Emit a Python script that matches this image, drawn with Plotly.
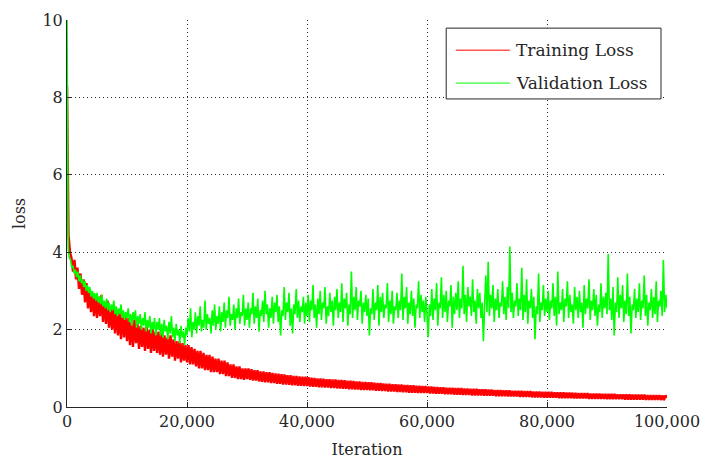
import numpy as np
import plotly.graph_objects as go

# Training loss, sampled every 250 iterations (0 .. 100,000)
train_iter = np.arange(0, 100001, 250)
train_loss = [
    8.30, 4.45, 4.00, 3.85, 3.50, 3.80, 3.30, 3.60, 3.05, 3.45, 2.90, 3.30, 2.70, 3.20, 2.55, 3.05, 2.45, 2.95, 2.35, 2.85,
    2.30, 2.85, 2.35, 2.90, 2.20, 2.70, 2.15, 2.75, 2.05, 2.60, 2.00, 2.55, 1.90, 2.50, 1.85, 2.45, 1.75, 2.40, 1.80, 2.35,
    1.70, 2.30, 1.60, 2.20, 1.55, 2.25, 1.65, 2.15, 1.50, 2.10, 1.55, 2.05, 1.45, 2.10, 1.50, 2.00, 1.40, 2.05, 1.45, 1.95,
    1.40, 1.95, 1.35, 1.90, 1.30, 1.85, 1.35, 1.80, 1.25, 1.85, 1.30, 1.75, 1.20, 1.70, 1.25, 1.70, 1.15, 1.65, 1.20, 1.60,
    1.15, 1.60, 1.10, 1.55, 1.10, 1.50, 1.05, 1.45, 1.00, 1.45, 1.00, 1.40, 0.95, 1.35, 0.95, 1.35, 0.90, 1.30, 0.90, 1.25,
    0.90, 1.25, 0.85, 1.20, 0.85, 1.20, 0.80, 1.15, 0.80, 1.10, 0.75, 1.10, 0.75, 1.05, 0.72, 1.05, 0.72, 1.00, 0.70, 1.00,
    0.72, 1.00, 0.70, 0.98, 0.68, 0.95, 0.68, 0.95, 0.66, 0.92, 0.65, 0.92, 0.64, 0.90, 0.64, 0.90, 0.62, 0.88, 0.62, 0.87,
    0.60, 0.86, 0.60, 0.85, 0.58, 0.84, 0.58, 0.82, 0.57, 0.82, 0.56, 0.80, 0.56, 0.80, 0.55, 0.79, 0.55, 0.78, 0.54, 0.78,
    0.54, 0.77, 0.53, 0.76, 0.52, 0.75, 0.52, 0.74, 0.51, 0.74, 0.51, 0.73, 0.50, 0.72, 0.50, 0.72, 0.49, 0.71, 0.49, 0.71,
    0.48, 0.70, 0.48, 0.70, 0.47, 0.69, 0.47, 0.68, 0.46, 0.68, 0.46, 0.67, 0.45, 0.66, 0.45, 0.66, 0.44, 0.65, 0.44, 0.65,
    0.44, 0.64, 0.43, 0.64, 0.43, 0.63, 0.42, 0.62, 0.42, 0.62, 0.41, 0.61, 0.41, 0.60, 0.40, 0.60, 0.40, 0.59, 0.40, 0.59,
    0.39, 0.58, 0.39, 0.58, 0.38, 0.57, 0.38, 0.57, 0.37, 0.56, 0.37, 0.56, 0.37, 0.55, 0.36, 0.55, 0.36, 0.54, 0.36, 0.54,
    0.36, 0.53, 0.35, 0.53, 0.35, 0.52, 0.34, 0.52, 0.34, 0.51, 0.34, 0.51, 0.33, 0.50, 0.33, 0.50, 0.33, 0.50, 0.32, 0.49,
    0.32, 0.49, 0.32, 0.49, 0.31, 0.48, 0.31, 0.48, 0.31, 0.47, 0.30, 0.47, 0.30, 0.47, 0.30, 0.46, 0.30, 0.46, 0.29, 0.46,
    0.29, 0.45, 0.29, 0.45, 0.29, 0.44, 0.28, 0.44, 0.28, 0.44, 0.28, 0.43, 0.28, 0.43, 0.27, 0.43, 0.27, 0.42, 0.27, 0.42,
    0.27, 0.42, 0.26, 0.42, 0.26, 0.41, 0.26, 0.41, 0.26, 0.41, 0.25, 0.40, 0.25, 0.40, 0.25, 0.40, 0.25, 0.39, 0.24, 0.39,
    0.24, 0.39, 0.24, 0.39, 0.24, 0.38, 0.24, 0.38, 0.23, 0.38, 0.23, 0.38, 0.23, 0.37, 0.23, 0.37, 0.23, 0.37, 0.22, 0.37,
    0.22, 0.36, 0.22, 0.36, 0.22, 0.36, 0.22, 0.36, 0.21, 0.35, 0.21, 0.35, 0.21, 0.35, 0.21, 0.35, 0.21, 0.34, 0.21, 0.34,
    0.20, 0.34, 0.20, 0.34, 0.20, 0.34, 0.20, 0.33, 0.20, 0.33, 0.20, 0.33, 0.19, 0.33, 0.19, 0.33, 0.19, 0.32, 0.19, 0.32,
    0.19, 0.32, 0.19, 0.32, 0.19, 0.32, 0.18, 0.31, 0.18, 0.31, 0.18, 0.31, 0.18, 0.31, 0.18, 0.31, 0.18, 0.30, 0.18, 0.30,
    0.24,
]

# Validation loss, sampled every 200 iterations (0 .. 100,000)
val_iter = np.arange(0, 100001, 200)
val_loss = [
    10.0, 4.10, 3.85, 3.80, 3.60, 3.65, 3.45, 3.55, 3.35, 3.50, 3.25, 3.40, 3.20, 3.30, 3.10, 3.25, 3.00, 3.15, 2.95, 3.10, 2.85, 3.00, 2.80, 2.95, 2.75,
    2.95, 2.70, 2.85, 2.65, 2.90, 2.60, 2.75, 2.55, 2.80, 2.50, 2.70, 2.45, 2.65, 2.50, 2.75, 2.40, 2.60, 2.35, 2.55, 2.40, 2.65, 2.30, 2.50, 2.25, 2.45,
    2.30, 2.55, 2.20, 2.40, 2.10, 2.45, 2.25, 2.50, 2.05, 2.35, 2.15, 2.40, 2.00, 2.30, 2.10, 2.45, 1.95, 2.25, 2.05, 2.35, 1.90, 2.20, 2.00, 2.30, 1.85,
    2.20, 2.00, 2.30, 1.85, 2.15, 1.80, 2.25, 1.95, 2.10, 1.75, 2.20, 1.90, 2.35, 1.80, 2.05, 1.70, 2.15, 1.85, 2.00, 1.65, 2.10, 1.80, 1.95, 1.60, 2.05,
    1.85, 2.30, 1.95, 2.55, 1.80, 2.20, 2.00, 2.45, 1.90, 2.35, 2.10, 2.60, 1.95, 2.25, 2.05, 2.75, 2.00, 2.40, 2.15, 2.30, 1.90, 2.50, 2.10, 2.65, 2.00,
    2.35, 2.15, 2.60, 1.95, 2.45, 2.20, 2.70, 2.05, 2.50, 2.30, 2.85, 2.10, 2.40, 2.25, 2.65, 2.00, 2.55, 2.30, 2.80, 2.15, 2.45, 2.35, 2.90, 2.10, 2.55,
    2.25, 2.70, 2.05, 2.55, 2.40, 2.95, 2.15, 2.60, 2.30, 2.80, 1.95, 2.50, 2.35, 2.75, 2.20, 3.00, 2.40, 2.65, 2.05, 2.55, 2.30, 2.85, 2.15, 2.70, 2.45,
    2.90, 2.20, 2.60, 1.85, 2.50, 2.35, 3.10, 2.25, 2.70, 2.45, 2.95, 2.10, 2.55, 1.90, 2.65, 2.40, 3.05, 2.30, 2.75, 2.20, 2.60, 2.45, 2.85, 2.15, 2.70,
    2.35, 2.90, 2.20, 2.75, 2.50, 3.15, 2.30, 2.65, 2.05, 2.80, 2.40, 3.00, 2.25, 2.70, 2.55, 3.10, 2.15, 2.60, 2.35, 2.95, 2.45, 2.75, 2.10, 2.85, 2.50,
    3.05, 2.30, 2.70, 2.45, 3.20, 2.20, 2.80, 2.55, 2.95, 2.10, 2.65, 2.40, 3.50, 2.30, 2.85, 2.50, 3.10, 2.25, 2.75, 2.60, 3.00, 2.15, 2.70, 2.45, 2.90,
    2.35, 2.80, 1.85, 2.55, 2.40, 3.05, 2.25, 2.70, 2.50, 3.15, 2.10, 2.85, 2.45, 2.95, 2.30, 2.65, 2.55, 3.20, 2.20, 2.75, 2.40, 3.00, 2.15, 2.60, 2.50,
    2.95, 2.30, 2.75, 2.50, 3.45, 2.25, 2.85, 2.55, 3.10, 2.15, 2.70, 2.40, 3.00, 2.35, 2.80, 2.05, 2.65, 2.55, 3.25, 2.30, 2.90, 2.45, 2.75, 2.20, 2.85,
    2.40, 1.80, 2.65, 2.35, 3.05, 2.25, 2.80, 2.50, 3.20, 2.10, 2.70, 2.55, 3.35, 2.30, 2.90, 2.45, 3.00, 2.20, 2.75, 2.60, 3.15, 2.05, 2.85, 2.40, 2.95,
    2.50, 3.25, 2.30, 2.80, 2.55, 3.65, 2.40, 2.90, 2.20, 3.10, 2.60, 2.85, 2.35, 3.30, 2.45, 2.75, 2.15, 3.05, 2.55, 2.95, 2.30, 2.70, 1.70, 2.60, 3.40,
    2.45, 3.75, 2.35, 2.90, 2.55, 3.15, 2.20, 2.80, 2.50, 3.05, 2.30, 2.70, 2.60, 3.25, 2.40, 2.85, 2.25, 3.10, 2.55, 4.15, 2.45, 2.95, 2.30, 2.75, 2.60,
    3.20, 2.35, 2.80, 2.50, 3.60, 2.25, 2.90, 2.45, 3.30, 2.15, 2.75, 2.55, 3.05, 2.30, 2.85, 1.75, 2.60, 2.40, 3.45, 2.20, 2.70, 2.50, 3.15, 2.35, 2.80,
    2.45, 3.00, 2.25, 2.75, 2.55, 3.20, 2.35, 2.85, 2.10, 3.50, 2.40, 2.70, 2.50, 3.05, 2.20, 2.80, 2.60, 3.25, 2.30, 2.90, 2.45, 2.65, 2.15, 3.10, 2.50,
    2.85, 2.30, 3.00, 2.45, 2.70, 2.05, 3.15, 2.40, 2.80, 2.55, 3.30, 2.25, 2.75, 2.50, 3.05, 2.35, 2.90, 2.10, 2.65, 2.45, 3.20, 2.30, 2.85, 2.55, 2.95,
    2.40, 3.95, 2.50, 2.80, 2.25, 3.10, 1.85, 2.70, 2.45, 3.35, 2.30, 2.90, 2.55, 3.15, 2.20, 2.75, 2.40, 3.45, 2.35, 2.85, 1.90, 2.65, 2.50, 3.05, 2.30,
    2.80, 2.45, 3.20, 2.25, 2.75, 2.55, 3.40, 2.35, 2.90, 2.10, 2.70, 2.50, 3.05, 2.30, 2.85, 2.40, 3.25, 2.20, 2.75, 2.60, 3.00, 2.35, 3.80, 2.45, 2.90,
    2.55,
]

series_names = ["Training Loss", "Validation Loss"]
series_colors = ["#ff0000", "#00ff00"]
x_ticks = [0, 20000, 40000, 60000, 80000, 100000]
y_ticks = [0, 2, 4, 6, 8, 10]

n = min(len(val_iter), len(val_loss))
m = min(len(train_iter), len(train_loss))

FONT = "DejaVu Serif"
INK = "#262626"

fig = go.Figure()
fig.add_trace(go.Scatter(x=train_iter[:m], y=train_loss[:m], mode="lines", name=series_names[0],
                         line=dict(color=series_colors[0], width=2.4, simplify=False)))
fig.add_trace(go.Scatter(x=val_iter[:n], y=val_loss[:n], mode="lines", name=series_names[1],
                         line=dict(color=series_colors[1], width=1.6, simplify=False)))

axis_common = dict(
    showline=True, linecolor=INK, linewidth=1,
    ticks="inside", ticklen=5, tickcolor=INK,
    showgrid=True, gridcolor=INK, griddash="1px,3px", gridwidth=1,
    zeroline=False, mirror=False, automargin=False,
    tickfont=dict(family=FONT, size=16, color=INK),
)

# Legend drawn as a boxed key in the upper right (paper coordinates)
box = dict(x0=0.632, x1=0.99, y0=0.796, y1=0.979)
rows_y = [0.922, 0.837]
shapes = [dict(type="rect", xref="paper", yref="paper", **box,
               line=dict(color=INK, width=1), fillcolor="white", layer="above")]
annotations = []
for name, color, ry in zip(series_names, series_colors, rows_y):
    shapes.append(dict(type="line", xref="paper", yref="paper", x0=0.648, x1=0.738,
                       y0=ry, y1=ry, line=dict(color=color, width=1), layer="above"))
    annotations.append(dict(xref="paper", yref="paper", x=0.745, y=ry, text=name,
                            showarrow=False, xanchor="left", yanchor="middle",
                            font=dict(family=FONT, size=17, color=INK)))

fig.update_layout(
    width=702, height=459,
    margin=dict(l=67, r=35, t=20, b=52),
    paper_bgcolor="white", plot_bgcolor="white",
    font=dict(family=FONT, size=16, color=INK),
    xaxis=dict(range=[0, 100000], tickvals=x_ticks, tickformat=",",
               title=dict(text="Iteration", font=dict(family=FONT, size=16), standoff=13),
               **axis_common),
    yaxis=dict(range=[0, 10], tickvals=y_ticks,
               title=dict(text="loss", font=dict(family=FONT, size=16), standoff=12),
               **axis_common),
    shapes=shapes,
    annotations=annotations,
    showlegend=False,
)

fig.write_html("out.html")
